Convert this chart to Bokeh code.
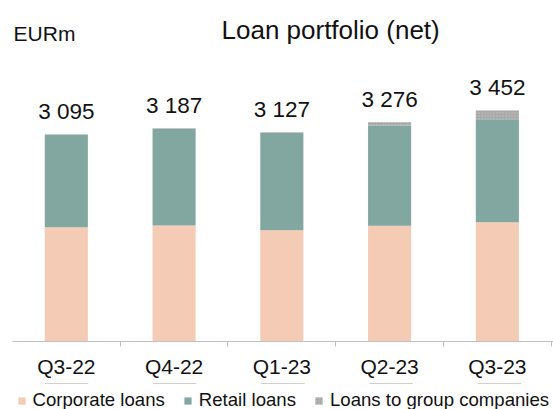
from bokeh.plotting import figure
from bokeh.layouts import column
from bokeh.models import Range1d, FixedTicker, Label, Legend, LegendItem, ColumnDataSource
from bokeh.embed import file_html
from bokeh.resources import INLINE
from bokeh.core.properties import value

categories = ["Q3-22", "Q4-22", "Q1-23", "Q2-23", "Q3-23"]
corporate = [1709, 1735, 1665, 1730, 1781]
retail = [1386, 1444, 1454, 1496, 1541]
group = [0, 8, 8, 50, 130]
totals = [3095, 3187, 3127, 3276, 3452]
series = ["Corporate loans", "Retail loans", "Loans to group companies"]
colors = ["#F4CBB4", "#82A7A1", "#A8A8A8"]

FONT = "Liberation Sans"

xpos = [i + 0.5 for i in range(len(categories))]
src = ColumnDataSource(dict(x=xpos, corp=corporate, ret=retail, grp=group,
                            tot=totals,
                            lab=[f"{v:,}".replace(",", " ") for v in totals]))


def style_stack(renderers):
    g = renderers[2].glyph
    g.hatch_pattern = "dot"
    g.hatch_color = "#c4c4c4"
    g.hatch_scale = 3


p = figure(width=553, height=383, output_backend="svg", toolbar_location=None,
           x_range=Range1d(0.0005, 5.021), y_range=Range1d(0, 5098),
           y_axis_location=None, min_border_left=12, min_border_right=0,
           min_border_top=0, min_border_bottom=42)
p.outline_line_color = None
p.xgrid.visible = False
p.ygrid.visible = False

rs = p.vbar_stack(["corp", "ret", "grp"], x="x", width=0.40, source=src,
                  fill_color=colors, line_color=None)
style_stack(rs)

p.text(x="x", y="tot", text="lab", source=src, text_align="center",
       text_baseline="alphabetic", y_offset=-23, text_font=value(FONT),
       text_font_size="22.5px", text_color="#111111")

ax = p.xaxis[0]
ax.ticker = FixedTicker(ticks=xpos, minor_ticks=[0, 1, 2, 3, 4, 5])
ax.major_label_overrides = {x: c for x, c in zip(xpos, categories)}
ax.major_tick_out = 0
ax.major_tick_in = 0
ax.minor_tick_out = 5
ax.minor_tick_in = 0
ax.minor_tick_line_color = "#bfbfbf"
ax.axis_line_color = "#bfbfbf"
ax.major_label_standoff = 8
ax.major_label_text_font = FONT
ax.major_label_text_font_size = "21px"
ax.major_label_text_color = "#111111"

p.add_layout(Label(x=1.1, y=308, x_units="screen", y_units="screen", text="EURm",
                   text_font=FONT, text_font_size="21px", text_color="#111111",
                   text_baseline="alphabetic"))
p.add_layout(Label(x=209, y=312, x_units="screen", y_units="screen",
                   text="Loan portfolio (net)", text_font=FONT,
                   text_font_size="26px", text_color="#111111",
                   text_baseline="alphabetic"))

# legend strip below the axis (same stacked series, drawn out of view)
p2 = figure(width=553, height=26, output_backend="svg", toolbar_location=None,
            x_range=Range1d(0, 5), y_range=Range1d(-2, -1),
            x_axis_location=None, y_axis_location=None,
            min_border_left=0, min_border_right=0, min_border_top=0,
            min_border_bottom=0)
p2.outline_line_color = None
p2.xgrid.visible = False
p2.ygrid.visible = False
rs2 = p2.vbar_stack(["corp", "ret", "grp"], x="x", width=0.40, source=src,
                    fill_color=colors, line_color=None)
style_stack(rs2)

legend = Legend(items=[LegendItem(label=s, renderers=[r]) for s, r in zip(series, rs2)],
                orientation="horizontal", location=(4.5, -2),
                glyph_width=9, glyph_height=9, label_standoff=7, spacing=18,
                padding=0, margin=0, border_line_color=None,
                background_fill_alpha=0, label_text_font=FONT,
                label_text_font_size="18.6px", label_text_color="#111111",
                label_height=18)
p2.add_layout(legend)

open("out.html", "w").write(file_html(column(p, p2, spacing=0), INLINE))
